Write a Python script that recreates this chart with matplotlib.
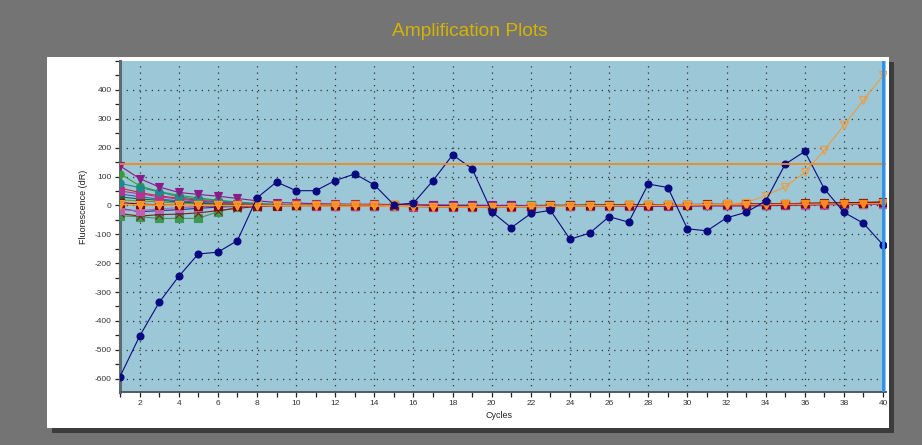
import matplotlib
matplotlib.use("Agg")
import matplotlib.pyplot as plt
from matplotlib.patches import Rectangle
from matplotlib.ticker import MultipleLocator

plt.rcParams["font.family"] = ["Liberation Sans", "DejaVu Sans"]
plt.rcParams["axes.unicode_minus"] = False

cycles = list(range(1, 41))
threshold = 144

# well traces (dR per cycle)
well_outlier = [-593, -453, -336, -246, -168, -162, -122, 26, 81, 51,
                51, 86, 109, 71, 2, 8, 86, 175, 127, -22,
                -77, -28, -17, -117, -96, -39, -58, 74, 62, -81,
                -88, -43, -24, 15, 143, 187, 57, -24, -62, -137]
well_rising = [4, 2, 1, 0, 0, 0, -1, -1, -2, -2,
               -2, -3, -3, -3, -4, -4, -4, -5, -5, -4,
               -4, -3, -3, -2, -2, -1, -1, 0, 1, 2,
               3, 5, 9, 34, 65, 114, 191, 278, 364, 450]
well_a1 = [137, 93, 64, 45, 38, 32, 24, 16, 10, 8,
           6, 5, 4, 4, 3, 2, 2, 1, 1, 0,
           0, -1, -1, -2, -2, -2, -3, -3, -3, -3,
           -2, -2, -2, -1, 0, 1, 2, 3, 4, 6]
well_a2 = [76, 62, 47, 30, 21, 16, 10, 6, 4, 2,
           1, 0, 0, -1, -2, -3, -3, -4, -4, -4,
           -3, -3, -2, -2, -1, -1, 0, 0, 1, 1,
           2, 2, 3, 3, 4, 4, 5, 6, 7, 9]
well_a3 = [-36, -39, -45, -45, -45, -22, -5, -1, 0, 1,
           1, 2, 2, 1, 1, 0, 0, -1, -1, -1,
           0, 0, 1, 1, 2, 2, 2, 3, 3, 3,
           3, 4, 4, 4, 5, 5, 6, 6, 7, 8]
well_a4 = [-28, -37, -32, -30, -26, -18, -10, -4, -2, -1,
           0, 0, 1, 1, 0, -1, -2, -2, -3, -3,
           -2, -2, -1, -1, 0, 0, 1, 1, 2, 2,
           3, 3, 4, 5, 6, 7, 8, 9, 10, 12]
well_a5 = [-10, -22, -18, -15, -10, -6, -3, -1, 0, 0,
           1, 1, 0, 0, -1, -2, -3, -3, -4, -4,
           -3, -3, -2, -2, -1, -1, 0, 0, 0, 1,
           1, 1, 2, 2, 3, 3, 4, 4, 5, 6]
well_a6 = [3, 1, 0, 0, 0, 0, 0, 0, 0, 1,
           1, 2, 2, 1, 0, -2, -4, -5, -6, -5,
           -5, -4, -3, -2, -1, -1, 0, 0, 1, 1,
           2, 2, 3, 3, 4, 4, 5, 5, 6, 7]
well_a7 = [50, 40, 30, 22, 15, 10, 6, 3, 1, 0,
           -1, -1, -2, -2, -3, -4, -5, -5, -6, -6,
           -5, -5, -4, -3, -3, -2, -2, -1, -1, 0,
           0, 1, 1, 2, 3, 4, 5, 6, 8, 10]
well_a8 = [20, 15, 12, 8, 5, 3, 2, 1, 0, 0,
           -1, -1, -1, -2, -2, -2, -3, -3, -3, -2,
           -2, -1, -1, 0, 0, 1, 1, 1, 2, 2,
           2, 3, 3, 3, 4, 4, 4, 5, 5, 6]
well_a9 = [60, 45, 33, 25, 18, 12, 8, 4, 2, 1,
           0, 0, -1, -1, -2, -3, -3, -4, -4, -4,
           -4, -3, -3, -2, -2, -1, -1, 0, 0, 1,
           1, 2, 2, 3, 3, 4, 5, 6, 7, 9]
well_a10 = [110, 68, 48, 35, 26, 18, 12, 6, 3, 1,
            0, -1, -1, -2, -3, -4, -5, -5, -5, -5,
            -4, -4, -3, -3, -2, -2, -1, -1, 0, 0,
            1, 1, 2, 2, 3, 4, 5, 6, 7, 8]
well_a11 = [10, 5, 2, 0, -1, -1, -1, -1, -1, 0,
            0, 1, 1, 1, 0, 0, -1, -1, -2, -2,
            -1, -1, 0, 0, 1, 1, 2, 2, 3, 3,
            4, 4, 5, 5, 6, 7, 8, 9, 10, 11]
well_a12 = [40, 30, 22, 16, 11, 7, 4, 2, 1, 0,
            0, -1, -1, -1, -2, -2, -3, -3, -3, -3,
            -2, -2, -2, -1, -1, 0, 0, 1, 1, 1,
            2, 2, 2, 3, 3, 3, 4, 4, 5, 5]
well_a13 = [30, 22, 18, 12, 8, 5, 3, 1, 0, 0,
            0, 0, -1, -1, -1, -2, -2, -2, -3, -3,
            -2, -2, -1, -1, 0, 0, 0, 1, 1, 1,
            2, 2, 3, 3, 3, 4, 4, 5, 6, 7]
well_a14 = [-15, -18, -12, -8, -5, -3, -2, -1, 0, 0,
            -1, -1, -2, -2, -3, -3, -4, -4, -5, -5,
            -4, -4, -3, -3, -2, -2, -1, -1, 0, 0,
            0, 1, 1, 1, 2, 2, 3, 3, 4, 4]

fig = plt.figure(figsize=(9.22, 4.45), dpi=100)
fig.patch.set_facecolor("#747474")

# white panel with drop shadow (figure pixel coords -> fractions)
W, H = 922.0, 445.0
def panel_rect(x0, y0, x1, y1, color):
    fig.patches.append(Rectangle((x0 / W, 1 - y1 / H), (x1 - x0) / W, (y1 - y0) / H,
                                 transform=fig.transFigure, facecolor=color,
                                 edgecolor="none", zorder=-5))
panel_rect(52, 62, 894, 433, "#3c3c3c")
panel_rect(47, 57, 889, 428, "white")

fig.text(470 / W, 1 - 31 / H, "Amplification Plots", color="#d4b400",
         fontsize=13.8, ha="center", va="center")

ax = fig.add_axes([120 / W, 1 - 391.7 / H, 766 / W, 330.7 / H])
ax.set_facecolor("#9bc7d6")
ax.set_xlim(1, 40.15)
ax.set_ylim(-645, 500)

ax.xaxis.set_major_locator(MultipleLocator(2))
ax.xaxis.set_minor_locator(MultipleLocator(1))
ax.yaxis.set_major_locator(MultipleLocator(100))
ax.yaxis.set_minor_locator(MultipleLocator(50))
ax.set_yticks(range(-600, 401, 100))
ax.tick_params(which="both", direction="out", length=3.5, width=0.9,
               color="#222222", labelsize=6, labelcolor="#333333", pad=2.5)
ax.grid(True, which="major", color="#333333", linestyle=(0, (1, 4)), linewidth=0.9)
ax.set_axisbelow(True)

for side in ("top", "right"):
    ax.spines[side].set_visible(False)
ax.spines["left"].set_color("#606a70")
ax.spines["left"].set_linewidth(2.2)
ax.spines["bottom"].set_color("#505a60")
ax.spines["bottom"].set_linewidth(1.4)

ax.set_ylabel("Fluorescence (dR)", fontsize=6.5, color="#222222")
ax.yaxis.set_label_coords(-0.042, 0.558)
ax.set_xlabel("Cycles", fontsize=6.5, color="#222222")
ax.xaxis.set_label_coords(0.495, -0.058)

cluster = [
    (well_a10, "#34a034", "o"),
    (well_a3, "#3c9a50", "s"),
    (well_a4, "#8b1a1a", "x"),
    (well_a5, "#283090", "x"),
    (well_a8, "#8a8a20", "^"),
    (well_a12, "#3a5ac0", "^"),
    (well_a13, "#0e6a40", "s"),
    (well_a14, "#c060b0", "s"),
    (well_a9, "#d02828", "o"),
    (well_a7, "#b83090", "s"),
    (well_a2, "#1e8a8a", "o"),
    (well_a11, "#7a0a0a", "s"),
    (well_a1, "#8b1a8b", "v"),
]
for vals, col, mk in cluster:
    ax.plot(cycles, vals, color=col, marker=mk, markersize=5.3, linewidth=0.8,
            markeredgewidth=0.8, zorder=3)
ax.plot(cycles, well_a6, color="#ff8a1a", marker="v", markersize=6.2,
        linewidth=0.9, zorder=3.5)

ax.plot(cycles, well_rising, color="#f39a3a", marker="v", markersize=5.5,
        markerfacecolor="none", markeredgewidth=0.8, linewidth=0.8, zorder=4)
ax.plot(cycles, well_outlier, color="#0a0a80", marker="o", markersize=4.8,
        linewidth=0.8, zorder=5)
ax.axhline(threshold, color="#f08a20", linewidth=1.3, zorder=6)
ax.axvline(40, color="#2a8ef0", linewidth=2.0, zorder=7)

fig.savefig("out.png", dpi=100, facecolor=fig.get_facecolor())
